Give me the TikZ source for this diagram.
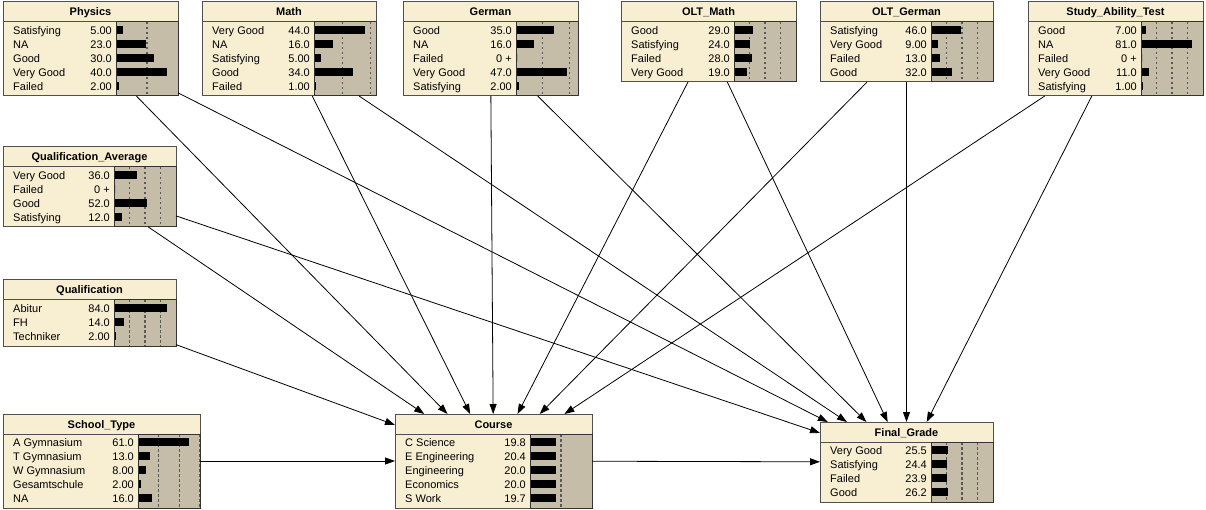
\documentclass[tikz,border=0pt]{standalone}
\usepackage{fontspec}
\setmainfont{Liberation Sans}
\usetikzlibrary{arrows.meta}

\definecolor{nodebg}{HTML}{F8EED2}
\definecolor{barbg}{HTML}{C6BDA8}
\definecolor{netframe}{HTML}{505050}

\tikzset{
    netbox/.style={draw=netframe, fill=nodebg, line width=1pt, inner sep=0pt, outer sep=0pt, anchor=north west},
    nodetitle/.style={anchor=base, inner sep=0pt, font=\bfseries\fontsize{11}{13}\selectfont},
    rowlabel/.style={anchor=base west, inner sep=0pt, font=\fontsize{11}{13}\selectfont},
    rowvalue/.style={anchor=base east, inner sep=0pt, font=\fontsize{11}{13}\selectfont},
    gridline/.style={draw=black!65, line width=1.3pt, dash pattern=on 2.5pt off 2.5pt},
    barframe/.style={draw=black!80, line width=1pt},
    link/.style={draw=black, line width=0.8pt, -{Triangle[length=10pt,width=7pt]}}
}

% name, title, left, top, right, rows, percent shown by the bar area, rows
\newcommand{\netnode}[8]{%
    \pgfmathsetmacro{\nbot}{#4+24+14*#6}
    \pgfmathsetmacro{\nbar}{#5-62}
    \pgfmathsetmacro{\nscl}{62/#7}
    \node[netbox, minimum width={(#5-#3)*1pt}, minimum height={(\nbot-#4)*1pt}] (#1) at (#3,#4) {};
    \fill[barbg] (\nbar,#4+20) rectangle (#5,\nbot);
    \begin{scope}
        \clip (\nbar,#4+20) rectangle (#5,\nbot);
        \foreach \p in {25,50,75}
            \draw[gridline] ({\nbar+\p*\nscl},#4+20) -- ({\nbar+\p*\nscl},\nbot);
    \end{scope}
    \draw[netframe, line width=1pt] (#3,#4+20) -- (#5,#4+20);
    \draw[barframe] (\nbar,#4+20) rectangle (#5,\nbot);
    \node[nodetitle] at ({(#3+#5)/2},#4+14) {#2};
    \foreach \lab/\val/\pct [count=\i from 0] in {#8} {
        \node[rowlabel] at (#3+10,#4+32.5+14*\i) {\lab};
        \node[rowvalue] at (\nbar-4,#4+32.5+14*\i) {\val};
        \fill (\nbar+1,#4+24+14*\i) rectangle ({\nbar+1+\pct*\nscl},#4+32+14*\i);
    }
}

\begin{document}
\begin{tikzpicture}[x=1pt, y=-1pt]
    \useasboundingbox (0,0) rectangle (1206,510);

    \netnode{physics}{Physics}{3}{2}{178}{5}{49.8}{Satisfying/5.00/5, NA/23.0/23, Good/30.0/30, Very Good/40.0/40, Failed/2.00/2}
    \netnode{math}{Math}{202}{2}{376}{5}{55}{Very Good/44.0/44, NA/16.0/16, Satisfying/5.00/5, Good/34.0/34, Failed/1.00/1}
    \netnode{german}{German}{403}{2}{578}{5}{58}{Good/35.0/35, NA/16.0/16, Failed/0 +/0, Very Good/47.0/47, Satisfying/2.00/2}
    \netnode{oltmath}{OLT\_Math}{621}{2}{796}{4}{100}{Good/29.0/29, Satisfying/24.0/24, Failed/28.0/28, Very Good/19.0/19}
    \netnode{oltgerman}{OLT\_German}{820}{2}{993}{4}{100}{Satisfying/46.0/46, Very Good/9.00/9, Failed/13.0/13, Good/32.0/32}
    \netnode{study}{Study\_Ability\_Test}{1028}{2}{1203}{5}{100}{Good/7.00/7, NA/81.0/81, Failed/0 +/0, Very Good/11.0/11, Satisfying/1.00/1}
    \netnode{qualavg}{Qualification\_Average}{3}{147}{176}{4}{100}{Very Good/36.0/36, Failed/0 +/0, Good/52.0/52, Satisfying/12.0/12}
    \netnode{qual}{Qualification}{3}{280}{176}{3}{100}{Abitur/84.0/84, FH/14.0/14, Techniker/2.00/2}
    \netnode{schooltype}{School\_Type}{3}{414}{200}{5}{75}{A Gymnasium/61.0/61, T Gymnasium/13.0/13, W Gymnasium/8.00/8, Gesamtschule/2.00/2, NA/16.0/16}
    \netnode{course}{Course}{395}{414}{592}{5}{49.8}{C Science/19.8/19.8, E Engineering/20.4/20.4, Engineering/20.0/20, Economics/20.0/20, S Work/19.7/19.7}
    \netnode{finalgrade}{Final\_Grade}{820}{422}{993}{4}{100}{Very Good/25.5/25.5, Satisfying/24.4/24.4, Failed/23.9/23.9, Good/26.2/26.2}

    \foreach \src in {physics,math,german,oltmath,oltgerman,study,qualavg,qual,schooltype}
        \draw[link] (\src) -- (course);
    \foreach \src in {physics,math,german,oltmath,oltgerman,study,qualavg,course}
        \draw[link] (\src) -- (finalgrade);
\end{tikzpicture}
\end{document}
